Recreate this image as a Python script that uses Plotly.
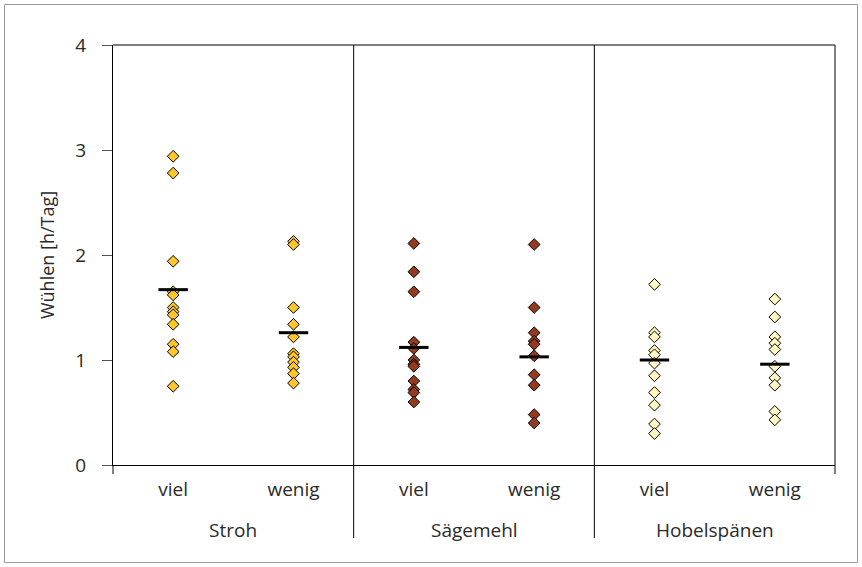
import plotly.graph_objects as go

# Categories (litter type x amount) and their x positions
groups = ["Stroh", "Sägemehl", "Hobelspänen"]
amounts = ["viel", "wenig"]
tick_text = ["viel", "wenig", "viel", "wenig", "viel", "wenig"]

# Rooting time per animal [h/day]
stroh_viel = [2.94, 2.78, 1.94, 1.65, 1.62, 1.50, 1.46, 1.43, 1.34, 1.15, 1.08, 0.75]
stroh_wenig = [2.13, 2.10, 1.50, 1.34, 1.22, 1.06, 1.03, 0.98, 0.93, 0.87, 0.78]
saege_viel = [2.11, 1.84, 1.65, 1.17, 1.11, 1.00, 0.96, 0.94, 0.80, 0.72, 0.69, 0.60]
saege_wenig = [2.10, 1.50, 1.26, 1.18, 1.15, 1.04, 0.86, 0.76, 0.48, 0.40]
hobel_viel = [1.72, 1.26, 1.22, 1.09, 1.05, 0.97, 0.85, 0.69, 0.57, 0.39, 0.30]
hobel_wenig = [1.58, 1.41, 1.22, 1.16, 1.10, 0.94, 0.83, 0.76, 0.51, 0.43]

# Group means (horizontal bars)
means = [1.67, 1.26, 1.12, 1.03, 1.00, 0.96]

series = [stroh_viel, stroh_wenig, saege_viel, saege_wenig, hobel_viel, hobel_wenig]
fill_colors = ["#FFC62C", "#FFC62C", "#933A1F", "#933A1F", "#FFF9C2", "#FFF9C2"]

W, H = 862, 567
L, R, T, B = 113, 27, 45, 102
pw, ph = W - L - R, H - T - B
FONT = "Open Sans"
FS = 19
TXT = "#2a2a2a"


def px_x(x):
    return (x - L) / pw


def px_y(y):
    return (H - B - y) / ph


fig = go.Figure()

for i, vals in enumerate(series):
    fig.add_trace(go.Scatter(
        x=[i] * len(vals), y=vals, mode="markers",
        marker=dict(symbol="diamond", size=9, color=fill_colors[i],
                    line=dict(color="#000000", width=1)),
        showlegend=False, hoverinfo="y",
    ))

fig.add_trace(go.Scatter(
    x=list(range(len(means))), y=means, mode="markers",
    marker=dict(symbol="line-ew", size=21, color="#000000",
                line=dict(color="#000000", width=3)),
    showlegend=False, hoverinfo="y",
))

line_style = dict(color="#000000", width=1)
shapes = [
    # outer frame
    dict(type="rect", xref="paper", yref="paper",
         x0=px_x(4.5), x1=px_x(857.5), y0=px_y(562.5), y1=px_y(4.5),
         line=dict(color="#9a9a9a", width=1)),
    # top and right edges of the plot area
    dict(type="line", xref="paper", yref="paper", x0=0, x1=1, y0=1, y1=1, line=line_style),
    dict(type="line", xref="paper", yref="paper", x0=1, x1=1, y0=px_y(474), y1=1, line=line_style),
    # left boundary tick below the axis
    dict(type="line", xref="paper", yref="paper", x0=0, x1=0, y0=px_y(474), y1=0, line=line_style),
]
# separators between the litter groups
for k in (1, 2):
    xf = k / 3
    shapes.append(dict(type="line", xref="paper", yref="paper", x0=xf, x1=xf,
                       y0=px_y(538), y1=1, line=line_style))

annotations = []
for g, name in enumerate(groups):
    annotations.append(dict(
        x=(g + 0.5) / 3, y=px_y(530), xref="paper", yref="paper",
        text=name, showarrow=False, xanchor="center", yanchor="middle",
        font=dict(family=FONT, size=FS, color=TXT),
    ))

fig.update_layout(
    width=W, height=H,
    margin=dict(l=L, r=R, t=T, b=B),
    paper_bgcolor="#FFFFFF", plot_bgcolor="#FFFFFF",
    font=dict(family=FONT, size=FS, color=TXT),
    shapes=shapes, annotations=annotations,
    xaxis=dict(
        range=[-0.5, 5.5], tickmode="array", tickvals=list(range(6)),
        ticktext=tick_text, showgrid=False, zeroline=False,
        showline=True, linecolor="#000000", linewidth=1,
        ticks="", ticklabelstandoff=7, fixedrange=True,
        tickfont=dict(family=FONT, size=FS, color=TXT),
    ),
    yaxis=dict(
        range=[0, 4], tickvals=[0, 1, 2, 3, 4], showgrid=False, zeroline=False,
        showline=True, linecolor="#000000", linewidth=1,
        ticks="outside", ticklen=10, tickcolor="#555555", tickwidth=1,
        ticklabelstandoff=12,
        tickfont=dict(family=FONT, size=FS, color=TXT),
        title=dict(text="Wühlen [h/Tag]", standoff=16,
                   font=dict(family=FONT, size=FS - 1, color=TXT)),
    ),
)

fig.write_html("out.html")
